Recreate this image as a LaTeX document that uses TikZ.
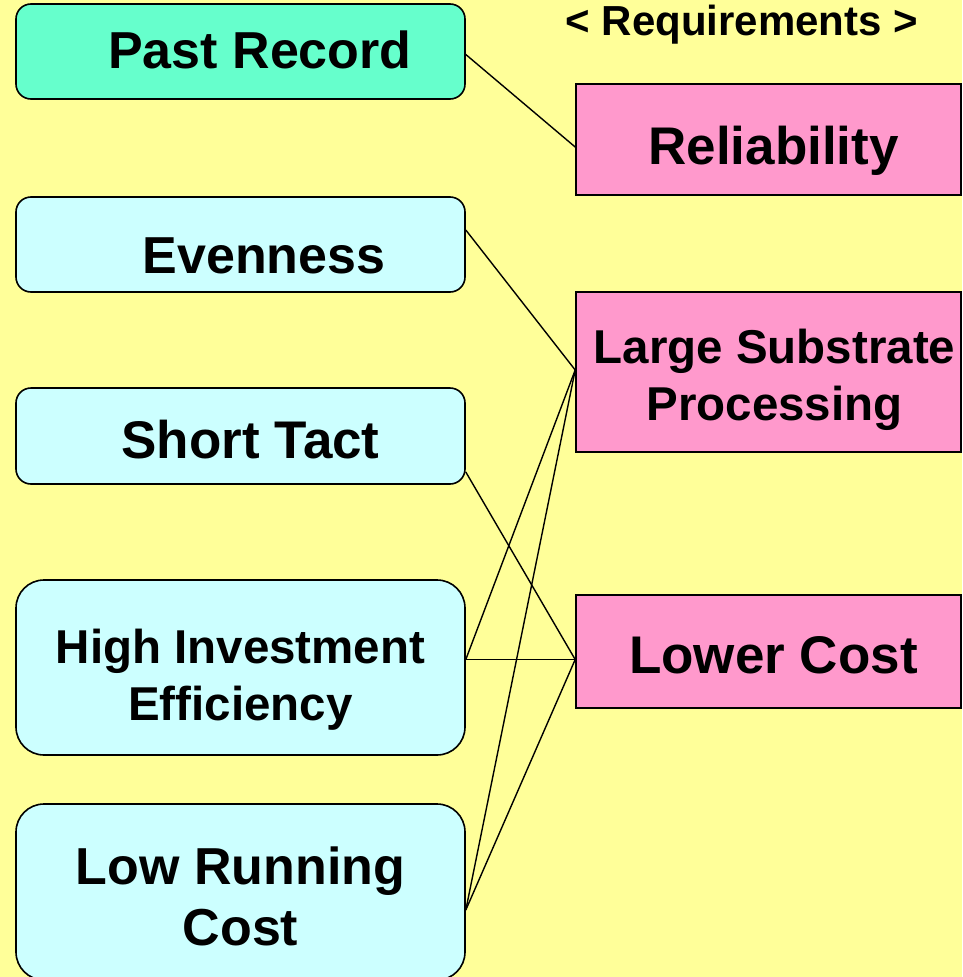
\documentclass[tikz,border=0pt]{standalone}
\usepackage{fontspec}
\setmainfont{Liberation Sans}
\usepackage{xcolor}
\usepackage{tikz}
\usetikzlibrary{positioning}
\definecolor{bgyellow}{HTML}{FFFF99}
\definecolor{pastgreen}{HTML}{66FFCC}
\definecolor{factorcyan}{HTML}{CCFFFF}
\definecolor{reqpink}{HTML}{FF99CC}
\tikzstyle{factor} = [draw, rectangle, rounded corners=15pt, minimum width=449pt, minimum height=96pt, align=center, fill=factorcyan, line width=1.6pt, text depth=12pt, font=\fontsize{52}{61}\selectfont\bfseries]
\tikzstyle{factorbig} = [factor, rounded corners=28pt, minimum height=176pt]
\tikzstyle{require} = [draw, rectangle, minimum width=385pt, align=center, fill=reqpink, line width=1.6pt, text depth=12pt, font=\fontsize{53}{58}\selectfont\bfseries]
\tikzstyle{link} = [line width=1.4pt]

\begin{document}
\begin{tikzpicture}[x=1pt, y=-1pt]
    \useasboundingbox (0,0) rectangle (962,977);
    \clip (0,0) rectangle (962,977);
    \fill[bgyellow] (0,0) rectangle (962,977);
    % left column
    \node (past) [factor, fill=pastgreen, minimum height=95pt, text height=45pt] at (240.5,51.5) {\hspace*{39pt}Past Record};
    \node (even) [factor, minimum height=95pt, text height=69pt] at (240.5,244.5) {\hspace*{47pt}Evenness};
    \node (tact) [factor, text height=56pt, font=\fontsize{53}{61}\selectfont\bfseries] at (240.5,436) {\hspace*{20pt}Short Tact};
    \node (invest) [factorbig, minimum height=175pt, text height=117pt, font=\fontsize{47.5}{57}\selectfont\bfseries] at (240.5,667.5) {High Investment\\Efficiency};
    \node (running) [factorbig, text height=118pt] at (240.5,892) {Low Running\\Cost};
    % right column
    \node (title) [anchor=base, font=\fontsize{42}{48}\selectfont\bfseries] at (742,35) {< Requirements >};
    \node (reliab) [require, minimum height=111pt, text height=61pt] at (768.5,139.5) {\hspace*{10pt}Reliability};
    \node (large) [require, minimum height=160pt, text height=108pt, font=\fontsize{47.5}{57}\selectfont\bfseries] at (768.5,372) {\hspace*{12pt}Large Substrate\\\hspace*{12pt}Processing};
    \node (lower) [require, minimum height=113pt, text height=55pt] at (768.5,651.5) {\hspace*{10pt}Lower Cost};
    % connectors
    \draw [link] ([yshift=-3pt]past.east) -- ([yshift=-7.5pt]reliab.west);
    \draw [link] ([yshift=14.5pt]even.east) -- ([yshift=2pt]large.west);
    \draw [link] ([yshift=-36pt]tact.east) -- ([yshift=-8pt]lower.west);
    \draw [link] ([yshift=8pt]invest.east) -- ([yshift=-8pt]lower.west);
    \draw [link] ([yshift=8pt]invest.east) -- ([yshift=2pt]large.west);
    \draw [link] ([yshift=-18pt]running.east) -- ([yshift=2pt]large.west);
    \draw [link] ([yshift=-18pt]running.east) -- ([yshift=-8pt]lower.west);
\end{tikzpicture}
\end{document}
